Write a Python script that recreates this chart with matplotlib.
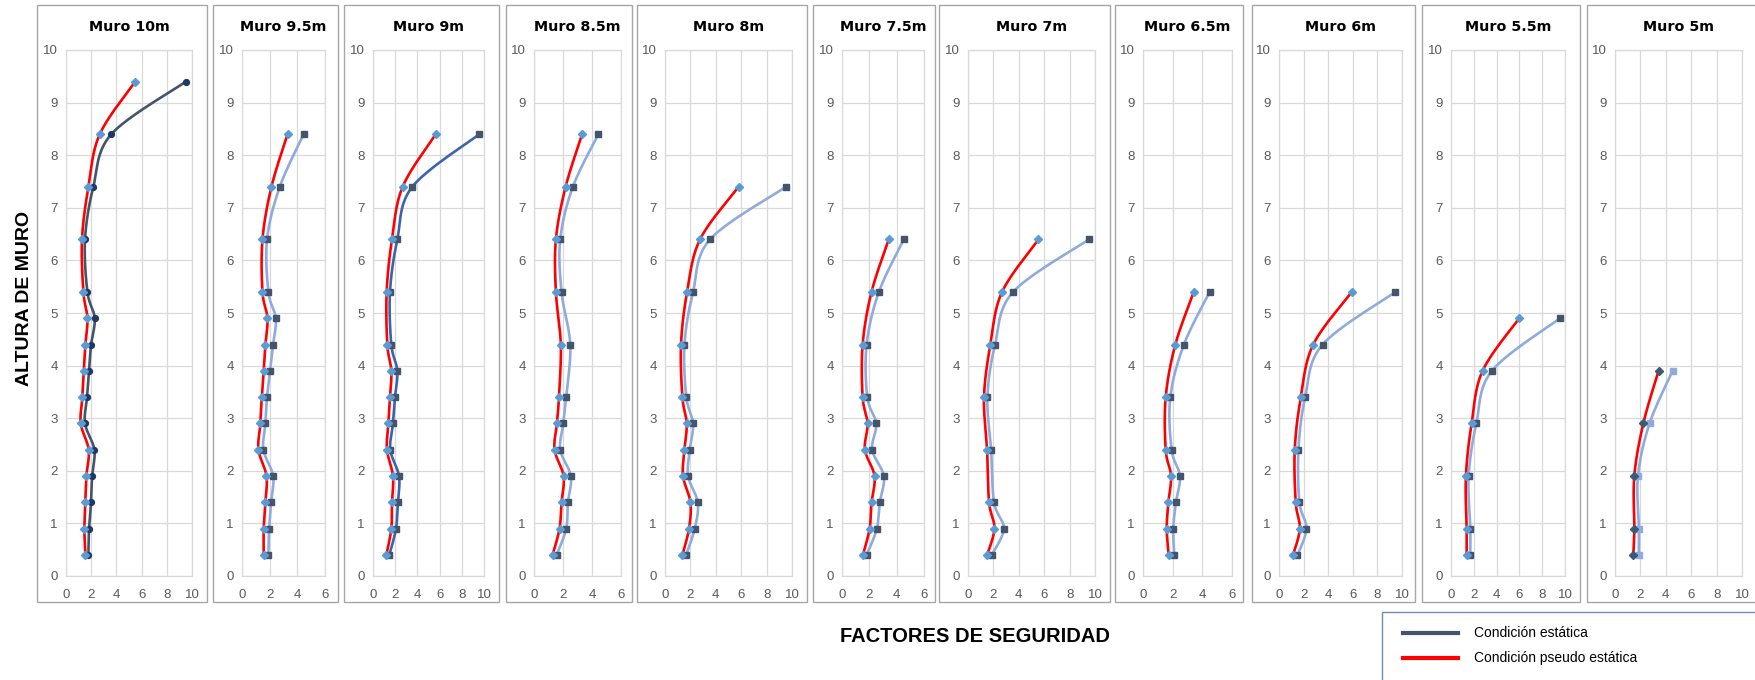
import numpy as np
import matplotlib
matplotlib.use("Agg")
import matplotlib.pyplot as plt
from matplotlib.patches import Rectangle
from matplotlib.lines import Line2D

# ---------------- data ----------------
titles = ["Muro 10m", "Muro 9.5m", "Muro 9m", "Muro 8.5m", "Muro 8m", "Muro 7.5m",
          "Muro 7m", "Muro 6.5m", "Muro 6m", "Muro 5.5m", "Muro 5m"]

h_10 = [9.4, 8.4, 7.4, 6.4, 5.4, 4.9, 4.4, 3.9, 3.4, 2.9, 2.4, 1.9, 1.4, 0.9, 0.4]
est_10 = [9.52, 3.60, 2.17, 1.51, 1.70, 2.28, 1.99, 1.83, 1.67, 1.51, 2.25, 2.07, 1.99, 1.83, 1.78]
pse_10 = [5.49, 2.68, 1.78, 1.27, 1.38, 1.70, 1.54, 1.41, 1.30, 1.17, 1.80, 1.62, 1.54, 1.46, 1.54]

h_95 = [8.4, 7.4, 6.4, 5.4, 4.9, 4.4, 3.9, 3.4, 2.9, 2.4, 1.9, 1.4, 0.9, 0.4]
est_95 = [4.45, 2.73, 1.81, 1.91, 2.44, 2.25, 2.03, 1.81, 1.69, 1.55, 2.25, 2.10, 1.96, 1.91]
pse_95 = [3.29, 2.13, 1.48, 1.48, 1.84, 1.69, 1.57, 1.43, 1.33, 1.19, 1.77, 1.69, 1.57, 1.57]

h_9 = [8.4, 7.4, 6.4, 5.4, 4.4, 3.9, 3.4, 2.9, 2.4, 1.9, 1.4, 0.9, 0.4]
est_9 = [9.58, 3.54, 2.19, 1.53, 1.65, 2.19, 1.98, 1.80, 1.56, 2.34, 2.25, 2.07, 1.47]
pse_9 = [5.65, 2.67, 1.71, 1.23, 1.29, 1.65, 1.53, 1.38, 1.26, 1.80, 1.71, 1.65, 1.20]

h_85 = [8.4, 7.4, 6.4, 5.4, 4.4, 3.4, 2.9, 2.4, 1.9, 1.4, 0.9, 0.4]
est_85 = [4.44, 2.68, 1.81, 1.90, 2.50, 2.22, 2.02, 1.81, 2.54, 2.34, 2.22, 1.56]
pse_85 = [3.32, 2.18, 1.51, 1.51, 1.85, 1.72, 1.58, 1.42, 2.04, 1.90, 1.76, 1.28]

h_8 = [7.4, 6.4, 5.4, 4.4, 3.4, 2.9, 2.4, 1.9, 1.4, 0.9, 0.4]
est_8 = [9.53, 3.55, 2.21, 1.53, 1.68, 2.21, 1.95, 1.82, 2.58, 2.34, 1.66]
pse_8 = [5.79, 2.76, 1.74, 1.26, 1.37, 1.71, 1.53, 1.42, 2.00, 1.89, 1.37]

h_75 = [6.4, 5.4, 4.4, 3.4, 2.9, 2.4, 1.9, 1.4, 0.9, 0.4]
est_75 = [4.52, 2.70, 1.80, 1.85, 2.50, 2.21, 3.06, 2.77, 2.55, 1.80]
pse_75 = [3.42, 2.16, 1.51, 1.51, 1.87, 1.68, 2.38, 2.16, 2.02, 1.53]

h_7 = [6.4, 5.4, 4.4, 3.4, 2.4, 1.4, 0.9, 0.4]
est_7 = [9.53, 3.55, 2.13, 1.53, 1.82, 2.05, 2.82, 1.87]
pse_7 = [5.55, 2.68, 1.76, 1.26, 1.50, 1.66, 2.08, 1.50]

h_65 = [5.4, 4.4, 3.4, 2.4, 1.9, 1.4, 0.9, 0.4]
est_65 = [4.49, 2.76, 1.84, 1.93, 2.49, 2.22, 2.04, 2.11]
pse_65 = [3.42, 2.18, 1.53, 1.53, 1.89, 1.71, 1.60, 1.73]

h_6 = [5.4, 4.4, 3.4, 2.4, 1.4, 0.9, 0.4]
est_6 = [9.46, 3.54, 2.13, 1.58, 1.66, 2.23, 1.50]
pse_6 = [5.91, 2.78, 1.77, 1.28, 1.36, 1.69, 1.14]

h_55 = [4.9, 3.9, 2.9, 1.9, 0.9, 0.4]
est_55 = [9.56, 3.59, 2.22, 1.55, 1.69, 1.69]
pse_55 = [5.98, 2.77, 1.81, 1.31, 1.37, 1.37]

h_5 = [3.9, 2.9, 1.9, 0.9, 0.4]
est_5 = [4.53, 2.72, 1.81, 1.88, 1.88]
pse_5 = [3.43, 2.23, 1.52, 1.52, 1.44]

x_max = [10, 6, 10, 6, 10, 6, 10, 6, 10, 10, 10]

series = [(h_10, est_10, pse_10), (h_95, est_95, pse_95), (h_9, est_9, pse_9),
          (h_85, est_85, pse_85), (h_8, est_8, pse_8), (h_75, est_75, pse_75),
          (h_7, est_7, pse_7), (h_65, est_65, pse_65), (h_6, est_6, pse_6),
          (h_55, est_55, pse_55), (h_5, est_5, pse_5)]

legend_labels = ["Condición estática", "Condición pseudo estática"]

# ---------------- layout (pixels) ----------------
W, H = 1755, 680
fig = plt.figure(figsize=(W / 100, H / 100), dpi=100)

plot_x = [(66, 192), (242, 325), (373, 484), (534, 621), (665, 792), (842, 924),
          (968, 1095), (1143, 1232), (1279, 1402), (1451, 1565), (1615, 1742)]
box_x = [(37, 207), (213, 338), (344, 499), (506, 632), (637, 807), (813, 935),
         (939, 1110), (1115, 1243), (1252, 1415), (1422, 1580), (1587, 1762)]
PLOT_TOP, PLOT_BOT = 50, 576
BOX_TOP, BOX_BOT = 5, 602

static_line = ['#44546A', '#8FAADC', '#3B64AD', '#8FAADC', '#8FAADC', '#8FAADC',
               '#8FAADC', '#8FAADC', '#8FAADC', '#8FAADC', '#8FAADC']
static_mk = ['o'] + ['s'] * 10
static_mkc = ['#1F3864'] + ['#44546A'] * 9 + ['#8FAADC']
pseudo_mkc = ['#5B9BD5'] * 10 + ['#3D5A75']
RED = '#FF0000'
TICK_C = '#595959'
GRID_C = '#D9D9D9'


def smooth(ax, xs, ys, n=24):
    pts = ax.transData.transform(np.column_stack([xs, ys]))
    P = np.vstack([pts[0], pts, pts[-1]])
    out = []
    t = np.linspace(0, 1, n, endpoint=False)[:, None]
    for i in range(1, len(P) - 2):
        p0, p1, p2, p3 = P[i - 1], P[i], P[i + 1], P[i + 2]
        c1 = p1 + (p2 - p0) / 6.0
        c2 = p2 - (p3 - p1) / 6.0
        seg = ((1 - t) ** 3) * p1 + 3 * ((1 - t) ** 2) * t * c1 + 3 * (1 - t) * (t ** 2) * c2 + (t ** 3) * p2
        out.append(seg)
    out.append(pts[-1:])
    res = np.vstack(out)
    d = ax.transData.inverted().transform(res)
    return d[:, 0], d[:, 1]


for i in range(11):
    bx0, bx1 = box_x[i]
    fig.add_artist(Rectangle((bx0 / W, 1 - BOX_BOT / H), (bx1 - bx0) / W, (BOX_BOT - BOX_TOP) / H,
                             transform=fig.transFigure, fill=False, edgecolor='#A6A6A6', lw=1.0))
    x0, x1 = plot_x[i]
    ax = fig.add_axes([x0 / W, 1 - PLOT_BOT / H, (x1 - x0) / W, (PLOT_BOT - PLOT_TOP) / H])
    ax.set_xlim(0, x_max[i])
    ax.set_ylim(0, 10)
    ax.set_xticks(np.arange(0, x_max[i] + 1, 2))
    ax.set_yticks(np.arange(0, 11, 1))
    ax.grid(True, color=GRID_C, lw=0.9)
    ax.set_axisbelow(True)
    for s in ax.spines.values():
        s.set_color(GRID_C)
        s.set_linewidth(0.9)
    ax.tick_params(length=0, labelsize=9.5, colors=TICK_C)
    ax.tick_params(axis='x', pad=9)
    ax.tick_params(axis='y', pad=6)
    for lab in ax.get_xticklabels() + ax.get_yticklabels():
        lab.set_fontfamily('Liberation Sans')
    ax.set_title(titles[i], fontsize=10.3, fontweight='bold', family='DejaVu Sans', pad=14)

    h, est, pse = series[i]
    sx, sy = smooth(ax, est, h)
    ax.plot(sx, sy, color=static_line[i], lw=1.9, solid_capstyle='round', zorder=3)
    px, py = smooth(ax, pse, h)
    ax.plot(px, py, color=RED, lw=1.9, solid_capstyle='round', zorder=4)
    ax.plot(est, h, ls='none', marker=static_mk[i], ms=4.2, color=static_mkc[i], zorder=5)
    ax.plot(pse, h, ls='none', marker='D', ms=3.6, color=pseudo_mkc[i], zorder=6)

# axis labels
fig.text(25 / W, 1 - 298 / H, "ALTURA DE MURO", rotation=90, ha='center', va='center',
         fontsize=14, fontweight='bold', family='Liberation Sans')
fig.text(975 / W, 1 - 637 / H, "FACTORES DE SEGURIDAD", ha='center', va='center',
         fontsize=14.5, fontweight='bold', family='Liberation Sans')

# legend box
fig.add_artist(Rectangle((1382 / W, 1 - 700 / H), 400 / W, 88 / H, transform=fig.transFigure,
                         fill=False, edgecolor='#6F8DB5', lw=1.0))
leg_colors = ['#44546A', RED]
for k, yy in enumerate([633, 658]):
    fig.add_artist(Line2D([1403 / W, 1458 / W], [1 - yy / H, 1 - yy / H], transform=fig.transFigure,
                          color=leg_colors[k], lw=3))
    fig.text(1474 / W, 1 - yy / H, legend_labels[k], ha='left', va='center', fontsize=10,
             family='Liberation Sans', color='#000000')

fig.savefig("out.png", dpi=100)
